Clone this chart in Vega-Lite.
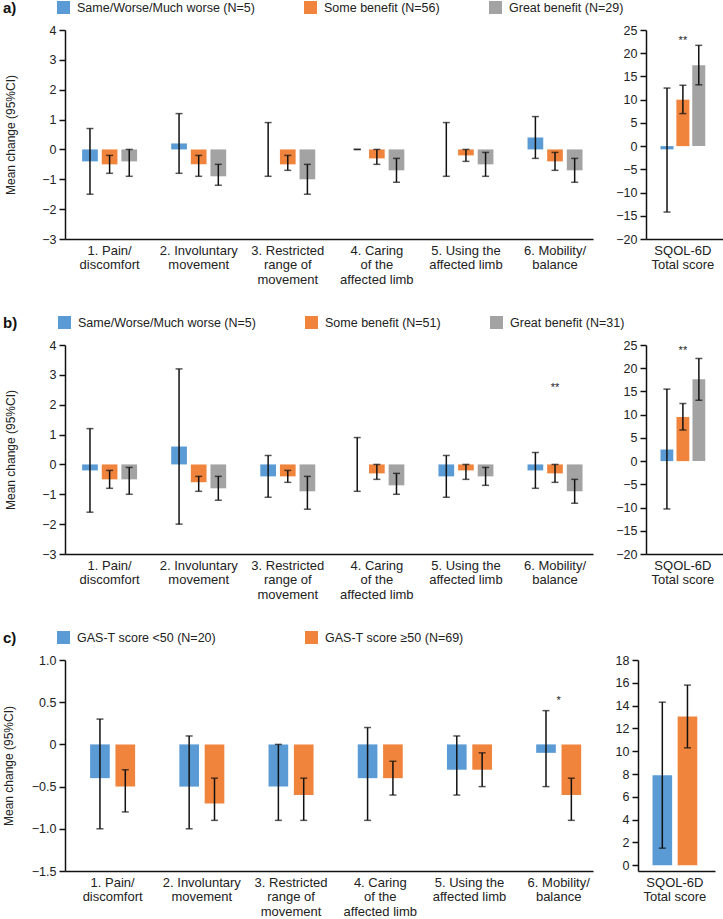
{
"$schema": "https://vega.github.io/schema/vega-lite/v6.json",
"padding": {"left": 2, "top": 1, "right": 0, "bottom": 0},
"background": "white",
"config": {
 "font": "Liberation Sans",
 "view": {"stroke": null},
 "axis": {"domainColor": "#111", "domainWidth": 1.5, "tickColor": "#111", "tickWidth": 1.5, "tickSize": 6, "labelFontSize": 12.5, "labelColor": "#222", "titleFontSize": 12, "titleFontWeight": "normal", "titleColor": "#222", "grid": false, "labelPadding": 3, "labelOverlap": false},
 "axisX": {"ticks": false, "labelAngle": 0, "labelPadding": 5, "labelLineHeight": 14.5, "labelFontSize": 13, "title": null},
 "legend": {"orient": "none", "legendX": -62, "legendY": -29, "direction": "horizontal", "titleOrient": "left", "titleFontSize": 15, "titleFontWeight": "bold", "titleColor": "#111", "titlePadding": 40, "labelFontSize": 12.5, "labelColor": "#222", "symbolType": "square", "symbolSize": 169, "symbolStrokeWidth": 0, "labelOffset": 7, "labelLimit": 400}
},
"datasets": {
 "aL": [
  {"cat": "1. Pain/|discomfort", "grp": "Same/Worse/Much worse (N=5)", "mean": -0.4, "lo": -1.5, "hi": 0.7},
  {"cat": "1. Pain/|discomfort", "grp": "Some benefit (N=56)", "mean": -0.5, "lo": -0.8, "hi": -0.2},
  {"cat": "1. Pain/|discomfort", "grp": "Great benefit (N=29)", "mean": -0.4, "lo": -0.9, "hi": 0},
  {"cat": "2. Involuntary|movement", "grp": "Same/Worse/Much worse (N=5)", "mean": 0.2, "lo": -0.8, "hi": 1.2},
  {"cat": "2. Involuntary|movement", "grp": "Some benefit (N=56)", "mean": -0.5, "lo": -0.9, "hi": -0.2},
  {"cat": "2. Involuntary|movement", "grp": "Great benefit (N=29)", "mean": -0.9, "lo": -1.2, "hi": -0.5},
  {"cat": "3. Restricted|range of|movement", "grp": "Same/Worse/Much worse (N=5)", "mean": 0, "lo": -0.9, "hi": 0.9},
  {"cat": "3. Restricted|range of|movement", "grp": "Some benefit (N=56)", "mean": -0.5, "lo": -0.7, "hi": -0.2},
  {"cat": "3. Restricted|range of|movement", "grp": "Great benefit (N=29)", "mean": -1.0, "lo": -1.5, "hi": -0.5},
  {"cat": "4. Caring|of the|affected limb", "grp": "Same/Worse/Much worse (N=5)", "mean": 0, "lo": 0, "hi": 0},
  {"cat": "4. Caring|of the|affected limb", "grp": "Some benefit (N=56)", "mean": -0.3, "lo": -0.5, "hi": 0},
  {"cat": "4. Caring|of the|affected limb", "grp": "Great benefit (N=29)", "mean": -0.7, "lo": -1.1, "hi": -0.3},
  {"cat": "5. Using the|affected limb", "grp": "Same/Worse/Much worse (N=5)", "mean": 0, "lo": -0.9, "hi": 0.9},
  {"cat": "5. Using the|affected limb", "grp": "Some benefit (N=56)", "mean": -0.2, "lo": -0.4, "hi": 0},
  {"cat": "5. Using the|affected limb", "grp": "Great benefit (N=29)", "mean": -0.5, "lo": -0.9, "hi": -0.1},
  {"cat": "6. Mobility/|balance", "grp": "Same/Worse/Much worse (N=5)", "mean": 0.4, "lo": -0.3, "hi": 1.1},
  {"cat": "6. Mobility/|balance", "grp": "Some benefit (N=56)", "mean": -0.4, "lo": -0.7, "hi": -0.1},
  {"cat": "6. Mobility/|balance", "grp": "Great benefit (N=29)", "mean": -0.7, "lo": -1.1, "hi": -0.3}
 ],
 "aR": [
  {"cat": "SQOL-6D|Total score", "grp": "Same/Worse/Much worse (N=5)", "mean": -0.7, "lo": -14.2, "hi": 12.5},
  {"cat": "SQOL-6D|Total score", "grp": "Some benefit (N=56)", "mean": 10.0, "lo": 7.0, "hi": 13.1},
  {"cat": "SQOL-6D|Total score", "grp": "Great benefit (N=29)", "mean": 17.4, "lo": 13.2, "hi": 21.7}
 ],
 "bL": [
  {"cat": "1. Pain/|discomfort", "grp": "Same/Worse/Much worse (N=5)", "mean": -0.2, "lo": -1.6, "hi": 1.2},
  {"cat": "1. Pain/|discomfort", "grp": "Some benefit (N=51)", "mean": -0.5, "lo": -0.8, "hi": -0.2},
  {"cat": "1. Pain/|discomfort", "grp": "Great benefit (N=31)", "mean": -0.5, "lo": -1.0, "hi": -0.1},
  {"cat": "2. Involuntary|movement", "grp": "Same/Worse/Much worse (N=5)", "mean": 0.6, "lo": -2.0, "hi": 3.2},
  {"cat": "2. Involuntary|movement", "grp": "Some benefit (N=51)", "mean": -0.6, "lo": -0.9, "hi": -0.4},
  {"cat": "2. Involuntary|movement", "grp": "Great benefit (N=31)", "mean": -0.8, "lo": -1.2, "hi": -0.4},
  {"cat": "3. Restricted|range of|movement", "grp": "Same/Worse/Much worse (N=5)", "mean": -0.4, "lo": -1.1, "hi": 0.3},
  {"cat": "3. Restricted|range of|movement", "grp": "Some benefit (N=51)", "mean": -0.4, "lo": -0.6, "hi": -0.2},
  {"cat": "3. Restricted|range of|movement", "grp": "Great benefit (N=31)", "mean": -0.9, "lo": -1.5, "hi": -0.4},
  {"cat": "4. Caring|of the|affected limb", "grp": "Same/Worse/Much worse (N=5)", "mean": 0, "lo": -0.9, "hi": 0.9},
  {"cat": "4. Caring|of the|affected limb", "grp": "Some benefit (N=51)", "mean": -0.3, "lo": -0.5, "hi": 0},
  {"cat": "4. Caring|of the|affected limb", "grp": "Great benefit (N=31)", "mean": -0.7, "lo": -1.0, "hi": -0.3},
  {"cat": "5. Using the|affected limb", "grp": "Same/Worse/Much worse (N=5)", "mean": -0.4, "lo": -1.1, "hi": 0.3},
  {"cat": "5. Using the|affected limb", "grp": "Some benefit (N=51)", "mean": -0.2, "lo": -0.5, "hi": 0},
  {"cat": "5. Using the|affected limb", "grp": "Great benefit (N=31)", "mean": -0.4, "lo": -0.7, "hi": -0.1},
  {"cat": "6. Mobility/|balance", "grp": "Same/Worse/Much worse (N=5)", "mean": -0.2, "lo": -0.8, "hi": 0.4},
  {"cat": "6. Mobility/|balance", "grp": "Some benefit (N=51)", "mean": -0.3, "lo": -0.6, "hi": 0},
  {"cat": "6. Mobility/|balance", "grp": "Great benefit (N=31)", "mean": -0.9, "lo": -1.3, "hi": -0.5}
 ],
 "bR": [
  {"cat": "SQOL-6D|Total score", "grp": "Same/Worse/Much worse (N=5)", "mean": 2.5, "lo": -10.3, "hi": 15.5},
  {"cat": "SQOL-6D|Total score", "grp": "Some benefit (N=51)", "mean": 9.5, "lo": 6.7, "hi": 12.4},
  {"cat": "SQOL-6D|Total score", "grp": "Great benefit (N=31)", "mean": 17.6, "lo": 13.1, "hi": 22.1}
 ],
 "cL": [
  {"cat": "1. Pain/|discomfort", "grp": "GAS-T score <50 (N=20)", "mean": -0.4, "lo": -1.0, "hi": 0.3},
  {"cat": "1. Pain/|discomfort", "grp": "GAS-T score ≥50 (N=69)", "mean": -0.5, "lo": -0.8, "hi": -0.3},
  {"cat": "2. Involuntary|movement", "grp": "GAS-T score <50 (N=20)", "mean": -0.5, "lo": -1.0, "hi": 0.1},
  {"cat": "2. Involuntary|movement", "grp": "GAS-T score ≥50 (N=69)", "mean": -0.7, "lo": -0.9, "hi": -0.4},
  {"cat": "3. Restricted|range of|movement", "grp": "GAS-T score <50 (N=20)", "mean": -0.5, "lo": -0.9, "hi": 0.0},
  {"cat": "3. Restricted|range of|movement", "grp": "GAS-T score ≥50 (N=69)", "mean": -0.6, "lo": -0.9, "hi": -0.4},
  {"cat": "4. Caring|of the|affected limb", "grp": "GAS-T score <50 (N=20)", "mean": -0.4, "lo": -0.9, "hi": 0.2},
  {"cat": "4. Caring|of the|affected limb", "grp": "GAS-T score ≥50 (N=69)", "mean": -0.4, "lo": -0.6, "hi": -0.2},
  {"cat": "5. Using the|affected limb", "grp": "GAS-T score <50 (N=20)", "mean": -0.3, "lo": -0.6, "hi": 0.1},
  {"cat": "5. Using the|affected limb", "grp": "GAS-T score ≥50 (N=69)", "mean": -0.3, "lo": -0.5, "hi": -0.1},
  {"cat": "6. Mobility/|balance", "grp": "GAS-T score <50 (N=20)", "mean": -0.1, "lo": -0.5, "hi": 0.4},
  {"cat": "6. Mobility/|balance", "grp": "GAS-T score ≥50 (N=69)", "mean": -0.6, "lo": -0.9, "hi": -0.4}
 ],
 "cR": [
  {"cat": "SQOL-6D|Total score", "grp": "GAS-T score <50 (N=20)", "mean": 7.9, "lo": 1.5, "hi": 14.3},
  {"cat": "SQOL-6D|Total score", "grp": "GAS-T score ≥50 (N=69)", "mean": 13.05, "lo": 10.3, "hi": 15.8}
 ],
 "sA": [{"cat": "SQOL-6D|Total score", "y": 23.3, "label": "**"}],
 "sB": [{"cat": "6. Mobility/|balance", "y": 2.67, "label": "**"}],
 "sBR": [{"cat": "SQOL-6D|Total score", "y": 24.3, "label": "**"}],
 "sC": [{"cat": "6. Mobility/|balance", "y": 0.55, "label": "*"}]
},
"spacing": 30,
"resolve": {"scale": {"color": "independent", "xOffset": "independent", "x": "independent", "y": "independent"}, "legend": {"color": "independent"}},
"vconcat": [
 {"resolve": {"scale": {"xOffset": "independent", "x": "independent", "y": "independent"}},
  "hconcat": [
  {"width": 528, "height": 209,
   "encoding": {"x": {"field": "cat", "type": "nominal", "sort": null, "scale": {"type": "band", "domain": ["1. Pain/|discomfort", "2. Involuntary|movement", "3. Restricted|range of|movement", "4. Caring|of the|affected limb", "5. Using the|affected limb", "6. Mobility/|balance"], "paddingInner": 0.383, "paddingOuter": 0.155, "align": 0.62}, "axis": {"labelExpr": "split(datum.label, '|')"}}},
   "layer": [
    {"data": {"name": "aL"}, "mark": {"type": "bar"},
     "encoding": {"xOffset": {"field": "grp", "sort": null, "scale": {"type": "band", "paddingInner": 0.2, "paddingOuter": 0}},
      "y": {"field": "mean", "type": "quantitative", "title": "Mean change (95%CI)", "scale": {"domain": [-3, 4], "nice": false}, "axis": {"values": [-3, -2, -1, 0, 1, 2, 3, 4], "titlePadding": 24}},
      "color": {"field": "grp", "type": "nominal", "sort": null, "scale": {"domain": ["Same/Worse/Much worse (N=5)", "Some benefit (N=56)", "Great benefit (N=29)"], "range": ["#5B9BD5", "#F0843C", "#A3A3A3"]}, "legend": {"title": "a)", "columnPadding": 49}}}},
    {"data": {"name": "aL"}, "mark": {"type": "rule", "color": "#111", "strokeWidth": 1.5},
     "encoding": {"xOffset": {"field": "grp", "sort": null}, "y": {"field": "lo", "type": "quantitative", "title": "Mean change (95%CI)", "axis": {"values": [-3, -2, -1, 0, 1, 2, 3, 4], "titlePadding": 24}}, "y2": {"field": "hi"}}},
    {"data": {"name": "aL"}, "mark": {"type": "tick", "color": "#111", "thickness": 1.5, "size": 7},
     "encoding": {"xOffset": {"field": "grp", "sort": null}, "y": {"field": "lo", "type": "quantitative", "title": "Mean change (95%CI)", "axis": {"values": [-3, -2, -1, 0, 1, 2, 3, 4], "titlePadding": 24}}}},
    {"data": {"name": "aL"}, "mark": {"type": "tick", "color": "#111", "thickness": 1.5, "size": 7},
     "encoding": {"xOffset": {"field": "grp", "sort": null}, "y": {"field": "hi", "type": "quantitative", "title": "Mean change (95%CI)", "axis": {"values": [-3, -2, -1, 0, 1, 2, 3, 4], "titlePadding": 24}}}}
   ]},
  {"width": 77, "height": 209,
   "encoding": {"x": {"field": "cat", "type": "nominal", "sort": null, "scale": {"type": "band", "paddingInner": 0, "paddingOuter": 0.36, "align": 0.45}, "axis": {"labelExpr": "split(datum.label, '|')"}}},
   "layer": [
    {"data": {"name": "aR"}, "mark": {"type": "bar"},
     "encoding": {"xOffset": {"field": "grp", "sort": null, "scale": {"type": "band", "paddingInner": 0.18, "paddingOuter": 0}},
      "y": {"field": "mean", "type": "quantitative", "title": null, "scale": {"domain": [-20, 25], "nice": false}, "axis": {"values": [-20, -15, -10, -5, 0, 5, 10, 15, 20, 25]}},
      "color": {"field": "grp", "type": "nominal", "sort": null, "legend": {"title": "a)", "columnPadding": 49}}}},
    {"data": {"name": "aR"}, "mark": {"type": "rule", "color": "#111", "strokeWidth": 1.5},
     "encoding": {"xOffset": {"field": "grp", "sort": null}, "y": {"field": "lo", "type": "quantitative", "title": null, "axis": {"values": [-20, -15, -10, -5, 0, 5, 10, 15, 20, 25]}}, "y2": {"field": "hi"}}},
    {"data": {"name": "aR"}, "mark": {"type": "tick", "color": "#111", "thickness": 1.5, "size": 7},
     "encoding": {"xOffset": {"field": "grp", "sort": null}, "y": {"field": "lo", "type": "quantitative", "title": null, "axis": {"values": [-20, -15, -10, -5, 0, 5, 10, 15, 20, 25]}}}},
    {"data": {"name": "aR"}, "mark": {"type": "tick", "color": "#111", "thickness": 1.5, "size": 7},
     "encoding": {"xOffset": {"field": "grp", "sort": null}, "y": {"field": "hi", "type": "quantitative", "title": null, "axis": {"values": [-20, -15, -10, -5, 0, 5, 10, 15, 20, 25]}}}},
    {"data": {"name": "sA"}, "mark": {"type": "text", "fontSize": 11, "baseline": "middle", "dy": 3, "color": "#222"},
     "encoding": {"y": {"field": "y", "type": "quantitative", "title": null, "axis": {"values": [-20, -15, -10, -5, 0, 5, 10, 15, 20, 25]}}, "text": {"field": "label"}}}
   ]}
 ], "spacing": 22},
 {"resolve": {"scale": {"xOffset": "independent", "x": "independent", "y": "independent"}},
  "hconcat": [
  {"width": 528, "height": 209,
   "encoding": {"x": {"field": "cat", "type": "nominal", "sort": null, "scale": {"type": "band", "domain": ["1. Pain/|discomfort", "2. Involuntary|movement", "3. Restricted|range of|movement", "4. Caring|of the|affected limb", "5. Using the|affected limb", "6. Mobility/|balance"], "paddingInner": 0.383, "paddingOuter": 0.155, "align": 0.62}, "axis": {"labelExpr": "split(datum.label, '|')"}}},
   "layer": [
    {"data": {"name": "bL"}, "mark": {"type": "bar"},
     "encoding": {"xOffset": {"field": "grp", "sort": null, "scale": {"type": "band", "paddingInner": 0.2, "paddingOuter": 0}},
      "y": {"field": "mean", "type": "quantitative", "title": "Mean change (95%CI)", "scale": {"domain": [-3, 4], "nice": false}, "axis": {"values": [-3, -2, -1, 0, 1, 2, 3, 4], "titlePadding": 24}},
      "color": {"field": "grp", "type": "nominal", "sort": null, "scale": {"domain": ["Same/Worse/Much worse (N=5)", "Some benefit (N=51)", "Great benefit (N=31)"], "range": ["#5B9BD5", "#F0843C", "#A3A3A3"]}, "legend": {"title": "b)", "columnPadding": 49}}}},
    {"data": {"name": "bL"}, "mark": {"type": "rule", "color": "#111", "strokeWidth": 1.5},
     "encoding": {"xOffset": {"field": "grp", "sort": null}, "y": {"field": "lo", "type": "quantitative", "title": "Mean change (95%CI)", "axis": {"values": [-3, -2, -1, 0, 1, 2, 3, 4], "titlePadding": 24}}, "y2": {"field": "hi"}}},
    {"data": {"name": "bL"}, "mark": {"type": "tick", "color": "#111", "thickness": 1.5, "size": 7},
     "encoding": {"xOffset": {"field": "grp", "sort": null}, "y": {"field": "lo", "type": "quantitative", "title": "Mean change (95%CI)", "axis": {"values": [-3, -2, -1, 0, 1, 2, 3, 4], "titlePadding": 24}}}},
    {"data": {"name": "bL"}, "mark": {"type": "tick", "color": "#111", "thickness": 1.5, "size": 7},
     "encoding": {"xOffset": {"field": "grp", "sort": null}, "y": {"field": "hi", "type": "quantitative", "title": "Mean change (95%CI)", "axis": {"values": [-3, -2, -1, 0, 1, 2, 3, 4], "titlePadding": 24}}}},
    {"data": {"name": "sB"}, "mark": {"type": "text", "fontSize": 11, "baseline": "middle", "dy": 3, "color": "#222"},
     "encoding": {"y": {"field": "y", "type": "quantitative", "title": "Mean change (95%CI)", "axis": {"values": [-3, -2, -1, 0, 1, 2, 3, 4], "titlePadding": 24}}, "text": {"field": "label"}}}
   ]},
  {"width": 77, "height": 209,
   "encoding": {"x": {"field": "cat", "type": "nominal", "sort": null, "scale": {"type": "band", "paddingInner": 0, "paddingOuter": 0.36, "align": 0.45}, "axis": {"labelExpr": "split(datum.label, '|')"}}},
   "layer": [
    {"data": {"name": "bR"}, "mark": {"type": "bar"},
     "encoding": {"xOffset": {"field": "grp", "sort": null, "scale": {"type": "band", "paddingInner": 0.2, "paddingOuter": 0}},
      "y": {"field": "mean", "type": "quantitative", "title": null, "scale": {"domain": [-20, 25], "nice": false}, "axis": {"values": [-20, -15, -10, -5, 0, 5, 10, 15, 20, 25]}},
      "color": {"field": "grp", "type": "nominal", "sort": null, "legend": {"title": "b)", "columnPadding": 49}}}},
    {"data": {"name": "bR"}, "mark": {"type": "rule", "color": "#111", "strokeWidth": 1.5},
     "encoding": {"xOffset": {"field": "grp", "sort": null}, "y": {"field": "lo", "type": "quantitative", "title": null, "axis": {"values": [-20, -15, -10, -5, 0, 5, 10, 15, 20, 25]}}, "y2": {"field": "hi"}}},
    {"data": {"name": "bR"}, "mark": {"type": "tick", "color": "#111", "thickness": 1.5, "size": 7},
     "encoding": {"xOffset": {"field": "grp", "sort": null}, "y": {"field": "lo", "type": "quantitative", "title": null, "axis": {"values": [-20, -15, -10, -5, 0, 5, 10, 15, 20, 25]}}}},
    {"data": {"name": "bR"}, "mark": {"type": "tick", "color": "#111", "thickness": 1.5, "size": 7},
     "encoding": {"xOffset": {"field": "grp", "sort": null}, "y": {"field": "hi", "type": "quantitative", "title": null, "axis": {"values": [-20, -15, -10, -5, 0, 5, 10, 15, 20, 25]}}}},
    {"data": {"name": "sBR"}, "mark": {"type": "text", "fontSize": 11, "baseline": "middle", "dy": 3, "color": "#222"},
     "encoding": {"y": {"field": "y", "type": "quantitative", "title": null, "axis": {"values": [-20, -15, -10, -5, 0, 5, 10, 15, 20, 25]}}, "text": {"field": "label"}}}
   ]}
 ], "spacing": 22},
 {"resolve": {"scale": {"xOffset": "independent", "x": "independent", "y": "independent"}},
  "hconcat": [
  {"width": 528, "height": 211,
   "encoding": {"x": {"field": "cat", "type": "nominal", "sort": null, "scale": {"type": "band", "domain": ["1. Pain/|discomfort", "2. Involuntary|movement", "3. Restricted|range of|movement", "4. Caring|of the|affected limb", "5. Using the|affected limb", "6. Mobility/|balance"], "paddingInner": 0.4955, "paddingOuter": 0.207, "align": 0.68}, "axis": {"labelExpr": "split(datum.label, '|')"}}},
   "layer": [
    {"data": {"name": "cL"}, "mark": {"type": "bar"},
     "encoding": {"xOffset": {"field": "grp", "sort": null, "scale": {"type": "band", "paddingInner": 0.224, "paddingOuter": 0}},
      "y": {"field": "mean", "type": "quantitative", "title": "Mean change (95%CI)", "scale": {"domain": [-1.5, 1.0], "nice": false}, "axis": {"values": [-1.5, -1.0, -0.5, 0, 0.5, 1.0], "format": ".1f", "labelExpr": "datum.value == 0 ? '0' : datum.label", "titlePadding": 16}},
      "color": {"field": "grp", "type": "nominal", "sort": null, "scale": {"domain": ["GAS-T score <50 (N=20)", "GAS-T score ≥50 (N=69)"], "range": ["#5B9BD5", "#F0843C"]}, "legend": {"title": "c)", "columnPadding": 89}}}},
    {"data": {"name": "cL"}, "mark": {"type": "rule", "color": "#111", "strokeWidth": 1.5},
     "encoding": {"xOffset": {"field": "grp", "sort": null}, "y": {"field": "lo", "type": "quantitative", "title": "Mean change (95%CI)", "axis": {"values": [-1.5, -1.0, -0.5, 0, 0.5, 1.0], "format": ".1f", "labelExpr": "datum.value == 0 ? '0' : datum.label", "titlePadding": 16}}, "y2": {"field": "hi"}}},
    {"data": {"name": "cL"}, "mark": {"type": "tick", "color": "#111", "thickness": 1.5, "size": 7},
     "encoding": {"xOffset": {"field": "grp", "sort": null}, "y": {"field": "lo", "type": "quantitative", "title": "Mean change (95%CI)", "axis": {"values": [-1.5, -1.0, -0.5, 0, 0.5, 1.0], "format": ".1f", "labelExpr": "datum.value == 0 ? '0' : datum.label", "titlePadding": 16}}}},
    {"data": {"name": "cL"}, "mark": {"type": "tick", "color": "#111", "thickness": 1.5, "size": 7},
     "encoding": {"xOffset": {"field": "grp", "sort": null}, "y": {"field": "hi", "type": "quantitative", "title": "Mean change (95%CI)", "axis": {"values": [-1.5, -1.0, -0.5, 0, 0.5, 1.0], "format": ".1f", "labelExpr": "datum.value == 0 ? '0' : datum.label", "titlePadding": 16}}}},
    {"data": {"name": "sC"}, "mark": {"type": "text", "fontSize": 11, "baseline": "middle", "dy": 3, "color": "#222"},
     "encoding": {"y": {"field": "y", "type": "quantitative", "title": "Mean change (95%CI)", "axis": {"values": [-1.5, -1.0, -0.5, 0, 0.5, 1.0], "format": ".1f", "labelExpr": "datum.value == 0 ? '0' : datum.label", "titlePadding": 16}}, "text": {"field": "label"}}}
   ]},
  {"width": 77, "height": 211,
   "encoding": {"x": {"field": "cat", "type": "nominal", "sort": null, "scale": {"type": "band", "paddingInner": 0, "paddingOuter": 0.36, "align": 0.45}, "axis": {"labelExpr": "split(datum.label, '|')"}}},
   "layer": [
    {"data": {"name": "cR"}, "mark": {"type": "bar"},
     "encoding": {"xOffset": {"field": "grp", "sort": null, "scale": {"type": "band", "paddingInner": 0.22, "paddingOuter": 0}},
      "y": {"field": "mean", "type": "quantitative", "title": null, "scale": {"domain": [-0.5, 18], "nice": false}, "axis": {"values": [0, 2, 4, 6, 8, 10, 12, 14, 16, 18]}},
      "color": {"field": "grp", "type": "nominal", "sort": null, "legend": {"title": "c)", "columnPadding": 89}}}},
    {"data": {"name": "cR"}, "mark": {"type": "rule", "color": "#111", "strokeWidth": 1.5},
     "encoding": {"xOffset": {"field": "grp", "sort": null}, "y": {"field": "lo", "type": "quantitative", "title": null, "axis": {"values": [0, 2, 4, 6, 8, 10, 12, 14, 16, 18]}}, "y2": {"field": "hi"}}},
    {"data": {"name": "cR"}, "mark": {"type": "tick", "color": "#111", "thickness": 1.5, "size": 7},
     "encoding": {"xOffset": {"field": "grp", "sort": null}, "y": {"field": "lo", "type": "quantitative", "title": null, "axis": {"values": [0, 2, 4, 6, 8, 10, 12, 14, 16, 18]}}}},
    {"data": {"name": "cR"}, "mark": {"type": "tick", "color": "#111", "thickness": 1.5, "size": 7},
     "encoding": {"xOffset": {"field": "grp", "sort": null}, "y": {"field": "hi", "type": "quantitative", "title": null, "axis": {"values": [0, 2, 4, 6, 8, 10, 12, 14, 16, 18]}}}}
   ]}
 ], "spacing": 22}
]
}
